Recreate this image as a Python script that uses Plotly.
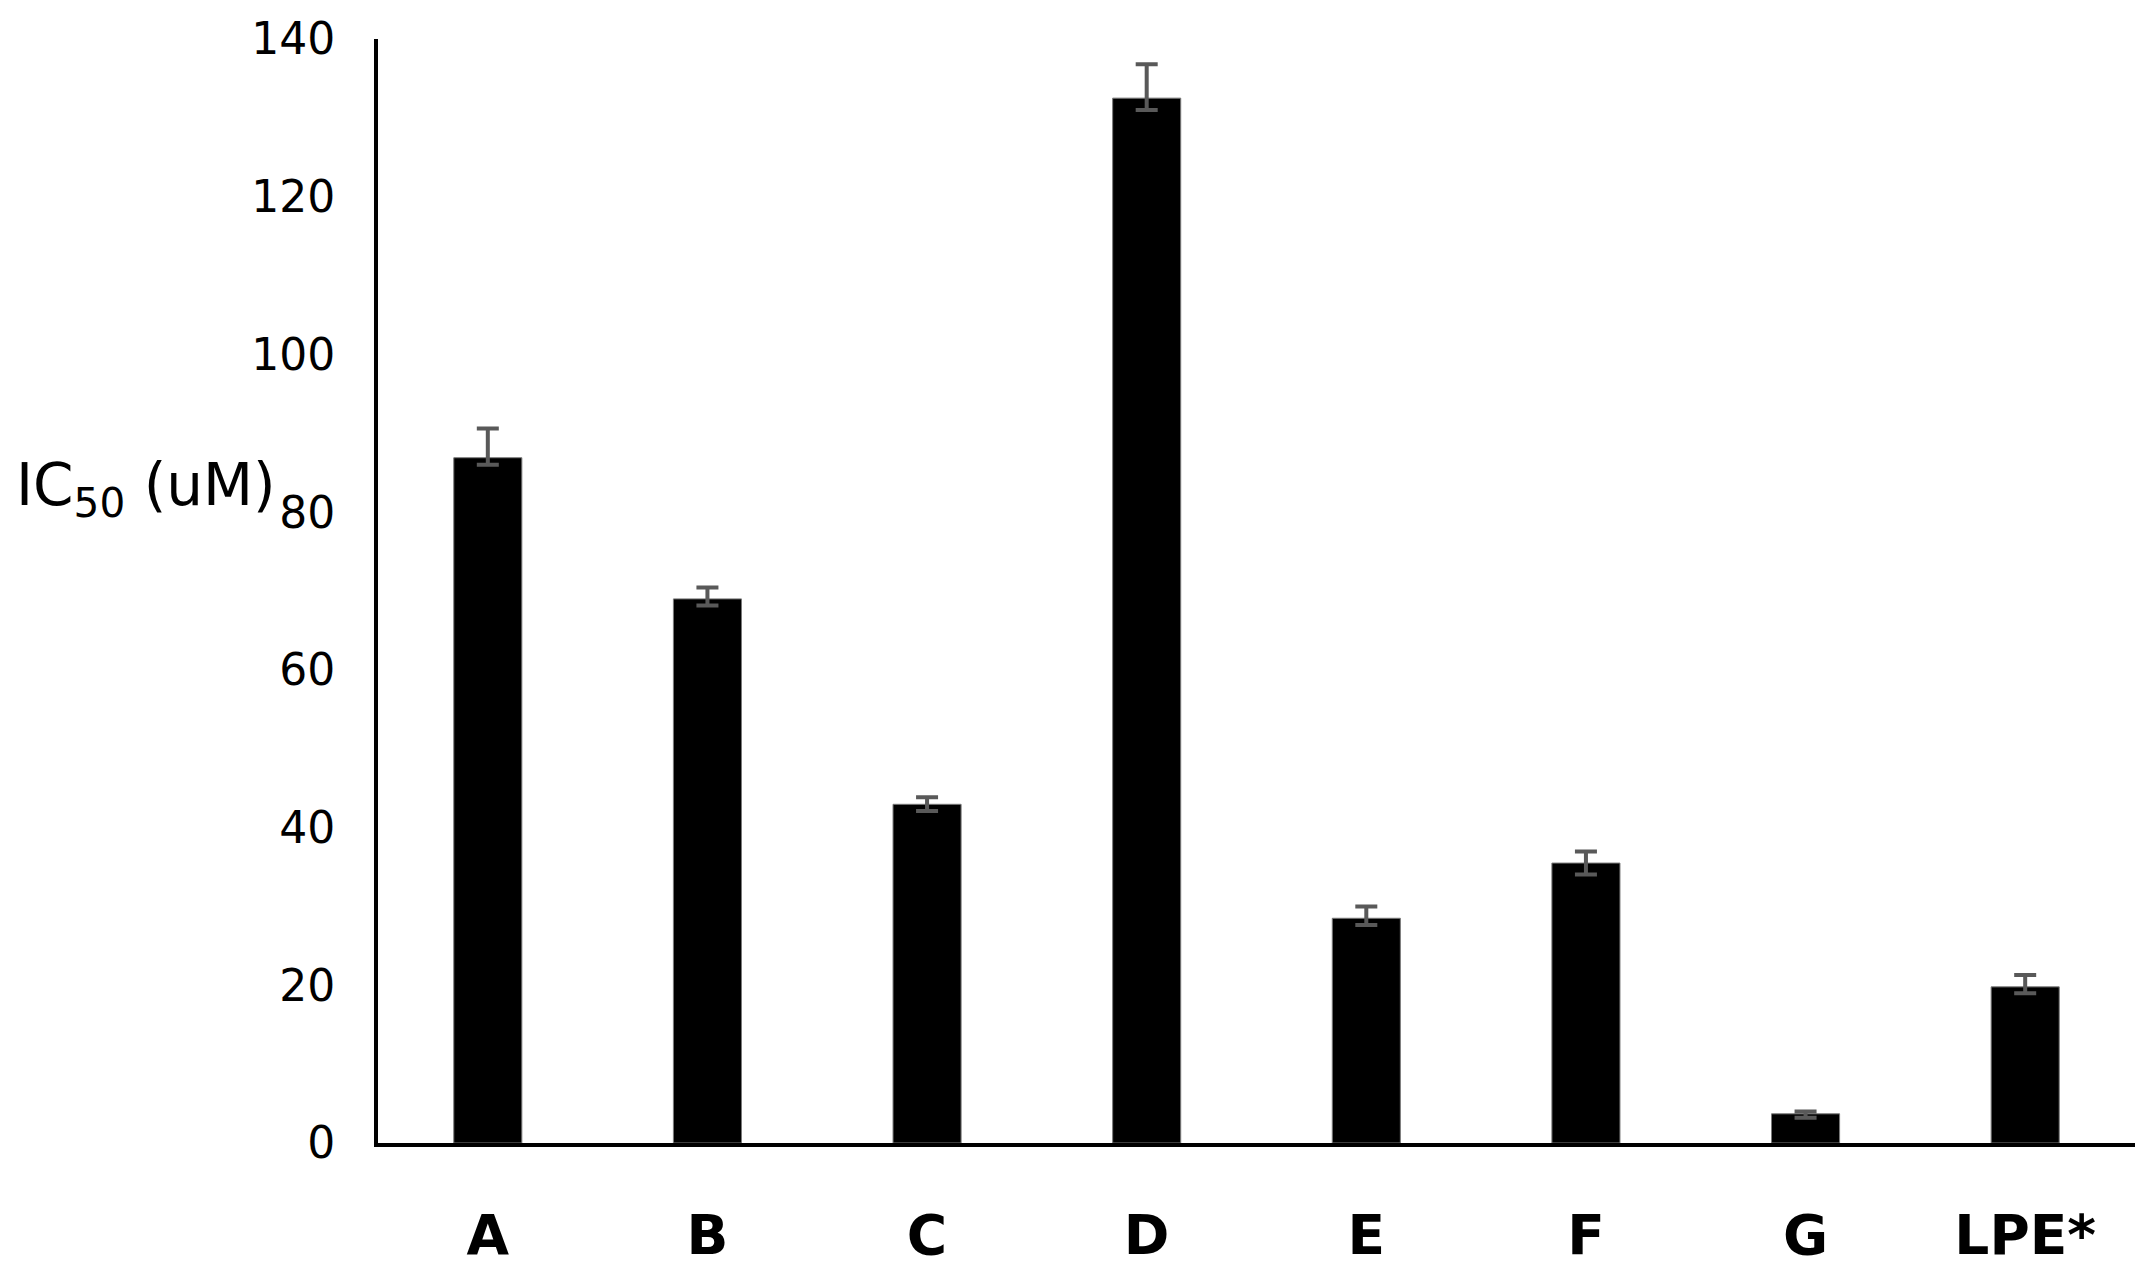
import plotly.graph_objects as go

categories = ["A", "B", "C", "D", "E", "F", "G", "LPE*"]
ic50_values = [86.9, 69.0, 42.95, 132.5, 28.5, 35.5, 3.7, 19.8]
error_plus = [3.7, 1.45, 0.9, 4.3, 1.5, 1.45, 0.3, 1.5]
error_minus = [0.9, 0.85, 0.85, 1.5, 0.85, 1.45, 0.5, 0.8]
y_ticks = [0, 20, 40, 60, 80, 100, 120, 140]

# plot-area edges in page pixels
PL, PR, PT, PB = 378, 2135, 39, 1143

fig = go.Figure()
fig.add_trace(go.Bar(
    x=categories,
    y=ic50_values,
    width=0.31,
    marker=dict(color="#000000", line=dict(color="#7a7a7a", width=1)),
    error_y=dict(
        type="data",
        symmetric=False,
        array=error_plus,
        arrayminus=error_minus,
        color="#595959",
        thickness=4,
        width=11,
    ),
    showlegend=False,
))

fig.update_layout(
    width=2150,
    height=1282,
    margin=dict(l=PL, r=2150 - PR, t=PT, b=1282 - PB),
    paper_bgcolor="white",
    plot_bgcolor="white",
    font=dict(family="DejaVu Sans", color="#000000"),
)

fig.update_xaxes(
    showline=True,
    linecolor="#000000",
    linewidth=4,
    showgrid=False,
    ticks="",
    tickfont=dict(family="DejaVu Sans", size=55, color="#000000", weight="bold"),
    ticklabelstandoff=41,
)

fig.update_yaxes(
    range=[0, 140],
    tickvals=y_ticks,
    ticktext=[str(v) for v in y_ticks],
    showline=True,
    linecolor="#000000",
    linewidth=4,
    showgrid=False,
    zeroline=False,
    ticks="",
    tickfont=dict(family="DejaVu Sans", size=44, color="#000000"),
    ticklabelstandoff=30,
)

fig.add_annotation(
    text="IC<sub>50</sub> (uM)",
    xref="paper", yref="paper",
    x=(14 - PL) / (PR - PL),
    y=1 - (489 - PT) / (PB - PT),
    xanchor="left", yanchor="middle",
    showarrow=False,
    font=dict(family="DejaVu Sans", size=58, color="#000000"),
)

fig.write_html(
    "out.html",
    config={"displayModeBar": False},
    post_script="document.body.style.margin='0';",
)
